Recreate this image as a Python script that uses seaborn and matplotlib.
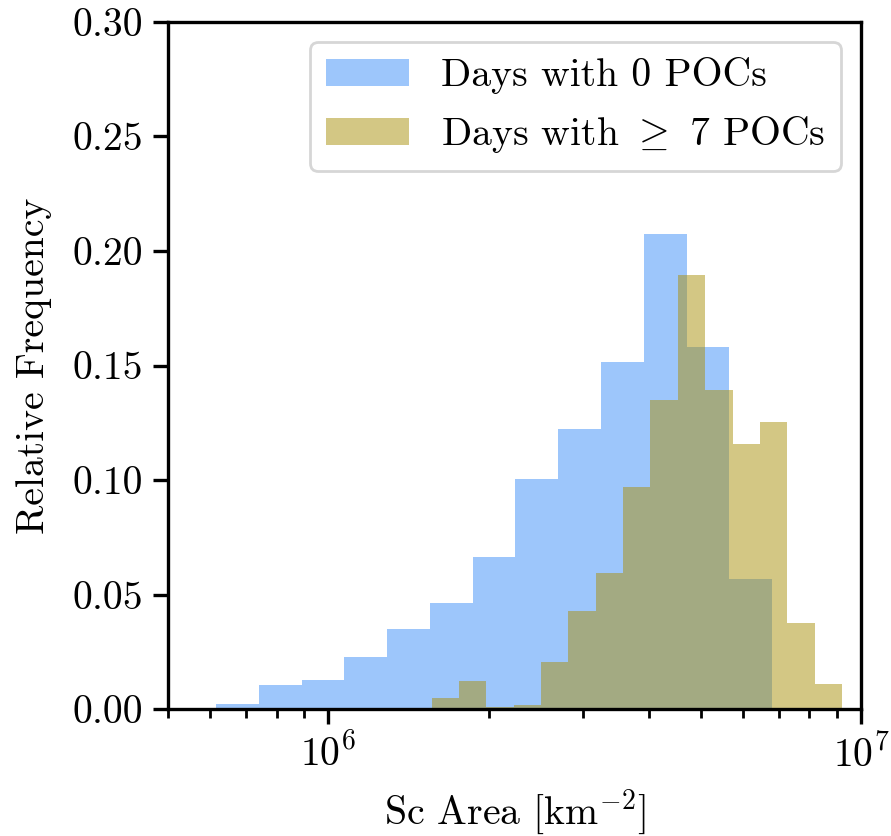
import numpy as np
import pandas as pd
import seaborn as sns
import matplotlib
matplotlib.use("Agg")
import matplotlib.pyplot as plt
from matplotlib.ticker import FormatStrFormatter

# ---- data ----
# Days with 0 POCs: log-spaced bins
blue_log_lo, blue_log_hi, blue_nbins = 5.789, 6.833, 13
blue_freq = [0.0023, 0.0106, 0.0128, 0.0229, 0.0351, 0.0464, 0.0665,
             0.1006, 0.1224, 0.1517, 0.2076, 0.1582, 0.0569]
# Days with >= 7 POCs
olive_log_lo, olive_log_hi, olive_nbins = 6.194, 6.964, 15
olive_freq = [0.0050, 0.0124, 0.0010, 0.0019, 0.0207, 0.0429, 0.0595,
              0.0971, 0.1351, 0.1897, 0.1394, 0.1159, 0.1252, 0.0377, 0.0111]

label_blue = "Days with 0 POCs"
label_olive = r"Days with $\geq$ 7 POCs"
y_ticks = [0.00, 0.05, 0.10, 0.15, 0.20, 0.25, 0.30]

blue_edges = list(np.logspace(blue_log_lo, blue_log_hi, blue_nbins + 1))
olive_edges = list(np.logspace(olive_log_lo, olive_log_hi, olive_nbins + 1))
be = np.array(blue_edges)
oe = np.array(olive_edges)
blue_df = pd.DataFrame({"area": np.sqrt(be[:-1] * be[1:]), "freq": blue_freq})
olive_df = pd.DataFrame({"area": np.sqrt(oe[:-1] * oe[1:]), "freq": olive_freq})

FS = 14.3

# ---- style ----
sns.set_style("ticks")
plt.rcParams.update({
    "font.family": ["cmr10", "DejaVu Serif"],
    "mathtext.fontset": "cm",
    "axes.unicode_minus": False,
    "axes.formatter.use_mathtext": True,
    "font.size": FS,
    "axes.linewidth": 1.2,
    "xtick.major.width": 1.2,
    "ytick.major.width": 1.2,
    "xtick.minor.width": 1.0,
    "xtick.major.size": 5.4,
    "ytick.major.size": 5.4,
    "xtick.minor.size": 3.2,
    "xtick.color": "black",
    "ytick.color": "black",
    "axes.edgecolor": "black",
    "text.color": "black",
    "axes.labelcolor": "black",
})

fig = plt.figure(figsize=(4.455, 4.18), dpi=200)
ax = fig.add_axes([0.1886, 0.1515, 0.7778, 0.8225])

sns.histplot(data=blue_df, x="area", weights="freq", bins=blue_edges,
             stat="count", color="#3d8ef9", alpha=0.5, linewidth=0,
             label=label_blue, ax=ax)
sns.histplot(data=olive_df, x="area", weights="freq", bins=olive_edges,
             stat="count", color="#a9900a", alpha=0.5, linewidth=0,
             label=label_olive, ax=ax)

ax.set_xscale("log")
ax.set_xlim(5e5, 1e7)
ax.set_ylim(0, 0.30)
ax.set_yticks(y_ticks)
ax.yaxis.set_major_formatter(FormatStrFormatter("%.2f"))
ax.tick_params(axis="both", labelsize=FS)
ax.set_xlabel(r"Sc Area [km$^{-2}$]", fontsize=FS, labelpad=4.5)
ax.set_ylabel("Relative Frequency", fontsize=FS, labelpad=7.5)
for s in ax.spines.values():
    s.set_visible(True)
    s.set_linewidth(1.2)

leg = ax.legend(loc="upper right", fontsize=FS, handlelength=2.1,
                frameon=True, fancybox=True, framealpha=0.8)
leg.get_frame().set_edgecolor("0.8")

fig.savefig("out.png", dpi=200)
